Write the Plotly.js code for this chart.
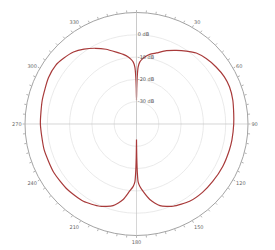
<!DOCTYPE html>
<html>
<head>
<meta charset="utf-8">
<script src="https://cdn.plot.ly/plotly-3.0.1.min.js"></script>
<style>html,body{margin:0;padding:0;background:#fff;}#chart{width:275px;height:250px;}</style>
</head>
<body>
<div id="chart"></div>
<script>
// Pattern (dB), right half (0..180 deg, clockwise from top)
const thetaRight = [0, 0.4, 0.8, 1.3, 1.7, 3, 5, 7, 10.8, 15.7, 22.2, 28.4, 34.3, 40.1, 46.8, 54.4, 61.8, 68.2, 76, 83.8, 90, 99.5, 105.6, 116.2, 127, 136, 145.5, 156, 164, 170, 174.4, 177, 178.4, 179, 179.5, 180];
const gainRight  = [-29.3, -24, -19.5, -16, -14.4, -12.2, -10.8, -9.7, -8.2, -6.9, -4.5, -2.45, -0.4, 1.6, 2.86, 3.9, 4.7, 4.9, 4.5, 3.85, 3.6, 3.4, 3.25, 3.1, 2.8, 2.6, 2.05, 0.37, -1.9, -5.6, -9.6, -12, -14, -18, -25, -33];
// left half (180..360 deg)
const thetaLeft = [180, 180.5, 181, 181.6, 183, 186, 190, 196, 204, 214.5, 226.7, 239.4, 254.3, 270, 284.3, 297.7, 306, 312, 318.8, 325, 331.6, 337.8, 344.3, 349.2, 353, 355, 357, 358.3, 358.7, 359.2, 359.6, 360];
const gainLeft  = [-33, -25, -18, -14, -12, -9.6, -5.6, -1.9, 0.37, 2.05, 2.7, 3.0, 3.0, 3.1, 3.6, 4.6, 4.8, 4.0, 2.9, 1.0, -1.4, -3.8, -6.5, -8.2, -9.7, -10.8, -12.2, -14.4, -16, -19.5, -24, -29.3];

const radialTicks = [-30, -20, -10, 0];
const radialLabels = ["-30 dB", "-20 dB", "-10 dB", "0 dB"];
const radialRange = [-40, 10];
const angleTicks = [0,5,10,15,20,25,30,35,40,45,50,55,60,65,70,75,80,85,90,95,100,105,110,115,120,125,130,135,140,145,150,155,160,165,170,175,180,185,190,195,200,205,210,215,220,225,230,235,240,245,250,255,260,265,270,275,280,285,290,295,300,305,310,315,320,325,330,335,340,345,350,355];
const angleLabelMap = {30:"30",60:"60",90:"90",120:"120",150:"150",180:"180",210:"210",240:"240",270:"270",300:"300",330:"330"};
const crossAngles = [0, 90, 180, 270];

const traces = crossAngles.map(a => ({
  type: 'scatterpolar', mode: 'lines',
  r: [radialRange[0], radialRange[1]], theta: [a, a],
  line: {color: '#c4c4c4', width: 0.7}, hoverinfo: 'skip', showlegend: false
}));
traces.push({
  type: 'scatterpolar', mode: 'lines',
  r: gainRight.concat(gainLeft), theta: thetaRight.concat(thetaLeft),
  line: {color: '#a83a3a', width: 1.2, shape: 'spline', smoothing: 0.6},
  showlegend: false
});

const layout = {
  width: 275, height: 250,
  margin: {l: 25, r: 27, t: 12, b: 14},
  paper_bgcolor: '#fff', plot_bgcolor: '#fff',
  showlegend: false,
  font: {family: 'DejaVu Sans, Arial, sans-serif', size: 5, color: '#666'},
  polar: {
    bgcolor: '#fff',
    domain: {x: [0, 1], y: [0, 1]},
    radialaxis: {
      range: radialRange, angle: 90, side: 'clockwise', tickangle: 90,
      tickvals: radialTicks, ticktext: radialLabels,
      tickfont: {size: 5, color: '#555'},
      showline: true, linecolor: '#c4c4c4', linewidth: 0.7,
      ticks: '', gridcolor: '#e4e4e4', gridwidth: 0.8
    },
    angularaxis: {
      rotation: 90, direction: 'clockwise',
      tickvals: angleTicks, ticktext: angleTicks.map(v => angleLabelMap[v] || ""),
      ticks: 'outside', ticklen: 2, tickcolor: '#999', tickwidth: 0.7,
      tickfont: {size: 5, color: '#666'},
      showgrid: false, showline: true, linecolor: '#999', linewidth: 0.9
    }
  }
};
Plotly.newPlot('chart', traces, layout, {staticPlot: true, displayModeBar: false});
</script>
</body>
</html>
